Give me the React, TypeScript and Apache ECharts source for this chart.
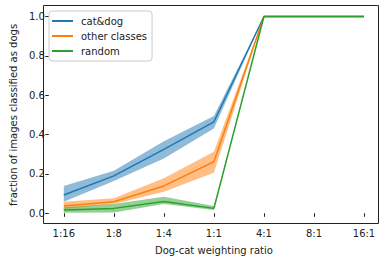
import React, { useEffect, useRef } from "react";
import * as echarts from "echarts";

const categories = ["1:16", "1:8", "1:4", "1:1", "4:1", "8:1", "16:1"];

const catDog = [0.093, 0.19, 0.325, 0.465, 1, 1, 1];
const catDogLo = [0.059, 0.164, 0.279, 0.431, 1, 1, 1];
const catDogHi = [0.139, 0.216, 0.366, 0.494, 1, 1, 1];

const otherCls = [0.037, 0.059, 0.139, 0.262, 1, 1, 1];
const otherLo = [0.022, 0.047, 0.11, 0.206, 1, 1, 1];
const otherHi = [0.059, 0.076, 0.178, 0.313, 1, 1, 1];

const randomCls = [0.017, 0.025, 0.06, 0.025, 1, 1, 1];
const randomLo = [0.003, 0.004, 0.047, 0.017, 1, 1, 1];
const randomHi = [0.031, 0.047, 0.084, 0.037, 1, 1, 1];

const yTicks = [0, 0.2, 0.4, 0.6, 0.8, 1.0];

const COLORS = ["#1f77b4", "#ff7f0e", "#2ca02c"];
const FONT = "DejaVu Sans";

function band(key: string, lo: number[], hi: number[], color: string, z: number) {
  return [
    {
      name: key + "_lo",
      type: "line",
      stack: key,
      data: lo,
      symbol: "none",
      lineStyle: { opacity: 0 },
      silent: true,
      z,
      clip: false,
    },
    {
      name: key + "_hi",
      type: "line",
      stack: key,
      data: hi.map((v, i) => v - lo[i]),
      symbol: "none",
      lineStyle: { opacity: 0 },
      areaStyle: { color, opacity: 0.5 },
      silent: true,
      z,
      clip: false,
    },
  ];
}

export default function App() {
  const ref = useRef<HTMLDivElement>(null);
  useEffect(() => {
    const chart = echarts.init(ref.current!, null, { renderer: "svg" });
    const line = (name: string, data: number[], color: string, z: number) => ({
      name,
      type: "line",
      data,
      symbol: "none",
      lineStyle: { color, width: 1.5 },
      itemStyle: { color },
      z,
      clip: false,
    });
    chart.setOption({
      animation: false,
      textStyle: { fontFamily: FONT },
      grid: { left: 59, right: 22, top: 16.5, bottom: 48.7 },
      xAxis: {
        type: "category",
        data: categories,
        boundaryGap: false,
        offset: 10.7,
        axisLine: { show: false },
        axisTick: { show: true, length: 3.5, alignWithLabel: true, lineStyle: { color: "#222" } },
        axisLabel: { color: "#222", fontSize: 10, margin: 4, fontFamily: FONT },
        splitLine: { show: false },
        name: "Dog-cat weighting ratio",
        nameLocation: "middle",
        nameGap: 21,
        nameTextStyle: { color: "#222", fontSize: 10, fontFamily: FONT },
      },
      yAxis: {
        type: "value",
        min: 0,
        max: 1,
        interval: 0.2,
        offset: 15,
        axisLine: { show: false },
        axisTick: { show: true, length: 3.5, lineStyle: { color: "#222" } },
        axisLabel: {
          color: "#222",
          fontSize: 10,
          margin: 4,
          fontFamily: FONT,
          formatter: (v: number) => (yTicks.includes(Math.round(v * 10) / 10) ? v.toFixed(1) : ""),
        },
        splitLine: { show: false },
        name: "fraction of images classified as dogs",
        nameLocation: "middle",
        nameGap: 27,
        nameTextStyle: { color: "#222", fontSize: 10, fontFamily: FONT },
      },
      legend: {
        orient: "vertical",
        left: 49,
        top: 11,
        padding: [4, 5, 4, 3],
        itemGap: 3,
        itemWidth: 21,
        itemHeight: 2,
        icon: "rect",
        backgroundColor: "rgba(255,255,255,0.8)",
        borderColor: "#cccccc",
        borderWidth: 1,
        borderRadius: 3,
        data: ["cat&dog", "other classes", "random"],
        textStyle: { color: "#222", fontSize: 10, fontFamily: FONT, lineHeight: 12, padding: [0, 0, 0, 3] },
      },
      graphic: [
        {
          type: "rect",
          shape: { x: 43.5, y: 5.5, width: 335, height: 218 },
          style: { fill: "none", stroke: "#222", lineWidth: 1 },
          silent: true,
          z: 100,
        },
      ],
      series: [
        ...band("cd", catDogLo, catDogHi, COLORS[0], 1),
        ...band("oc", otherLo, otherHi, COLORS[1], 2),
        ...band("rd", randomLo, randomHi, COLORS[2], 3),
        line("cat&dog", catDog, COLORS[0], 4),
        line("other classes", otherCls, COLORS[1], 5),
        line("random", randomCls, COLORS[2], 6),
      ],
    });
    return () => chart.dispose();
  }, []);
  return <div ref={ref} style={{ width: 386, height: 262, position: "absolute", left: 0, top: 0 }} />;
}
